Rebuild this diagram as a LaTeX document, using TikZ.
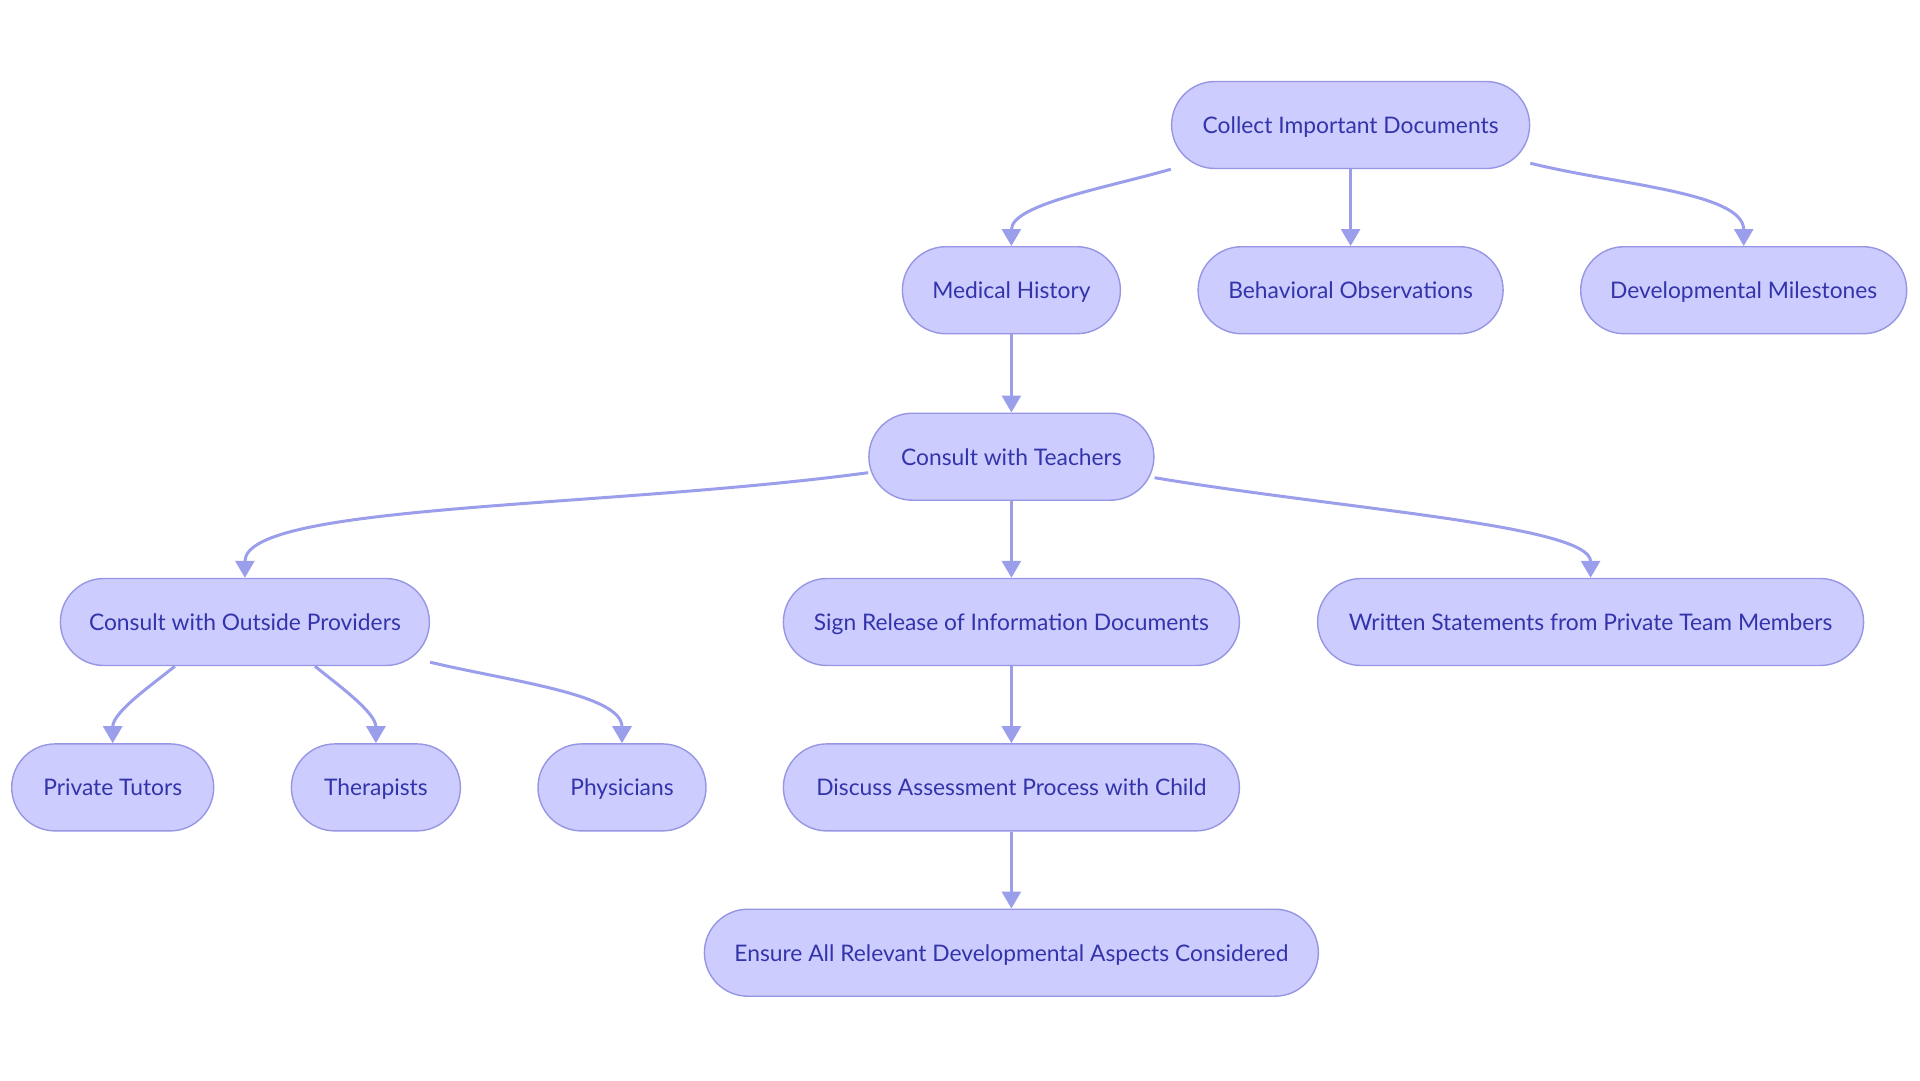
\documentclass[tikz,border=0pt]{standalone}
\usepackage{fontspec}
\setmainfont{Lato}
\usetikzlibrary{arrows.meta}
\definecolor{pillfill}{RGB}{204,204,255}
\definecolor{pilldraw}{RGB}{150,150,228}
\definecolor{pilltext}{RGB}{52,52,170}
\definecolor{linkcol}{RGB}{155,158,235}
\tikzset{
  pill/.style={draw=pilldraw, line width=1.4pt, fill=pillfill, text=pilltext,
    rounded corners=43.5pt, minimum height=87pt, inner sep=0pt,
    text height=20pt, text depth=3.4pt,
    font=\fontsize{22.8}{27}\selectfont},
  link/.style={draw=linkcol, line width=3pt,
    -{Triangle[length=17pt,width=19pt]}},
  bend end/.style={out looseness=1.1, in looseness=0.3},
  bend short/.style={out looseness=1, in looseness=0.6}
}
\begin{document}
\begin{tikzpicture}[x=1pt,y=-1pt]
\useasboundingbox (0,0) rectangle (1920,1080);
\node[pill, minimum width=358pt] (collect) at (1350.6,125) {Collect Important Documents};
\node[pill, minimum width=218pt] (medical) at (1011.4,290.2) {Medical History};
\node[pill, minimum width=305pt] (behav) at (1350.6,290.2) {Behavioral Observations};
\node[pill, minimum width=326pt] (milest) at (1743.7,290.2) {Developmental Milestones};
\node[pill, minimum width=285pt] (teachers) at (1011.4,456.7) {Consult with Teachers};
\node[pill, minimum width=369pt] (outside) at (244.9,622) {Consult with Outside Providers};
\node[pill, minimum width=456pt] (release) at (1011.4,622) {Sign Release of Information Documents};
\node[pill, minimum width=546pt] (written) at (1590.6,622) {Written Statements from Private Team Members};
\node[pill, minimum width=202pt] (tutors) at (112.7,787.4) {Private Tutors};
\node[pill, minimum width=169pt] (therap) at (375.9,787.4) {Therapists};
\node[pill, minimum width=168pt] (physic) at (622,787.4) {Physicians};
\node[pill, minimum width=456pt] (discuss) at (1011.4,787.4) {Discuss Assessment Process with Child};
\node[pill, minimum width=614pt] (ensure) at (1011.4,952.7) {Ensure All Relevant Developmental Aspects Considered};
% links
\draw[link] (collect.south west) to[out=196,in=90,bend short] (medical.north);
\draw[link] (collect) -- (behav);
\draw[link] ([yshift=6pt]collect.south east) to[out=-14,in=90,bend short] (milest.north);
\draw[link] (medical) -- (teachers);
\draw[link] ([yshift=-16pt]teachers.west) to[out=187.6,in=90,bend end] (outside.north);
\draw[link] (teachers) -- (release);
\draw[link] ([yshift=-21pt]teachers.east) to[out=-9.5,in=90,bend end] (written.north);
\draw[link] ([xshift=-70pt]outside.south) to[out=219,in=90,looseness=0.8] (tutors.north);
\draw[link] ([xshift=70pt]outside.south) to[out=-39,in=90,looseness=0.8] (therap.north);
\draw[link] ([yshift=4pt]outside.south east) to[out=-13.4,in=90,bend short] (physic.north);
\draw[link] (release) -- (discuss);
\draw[link] (discuss) -- (ensure);
\end{tikzpicture}
\end{document}
